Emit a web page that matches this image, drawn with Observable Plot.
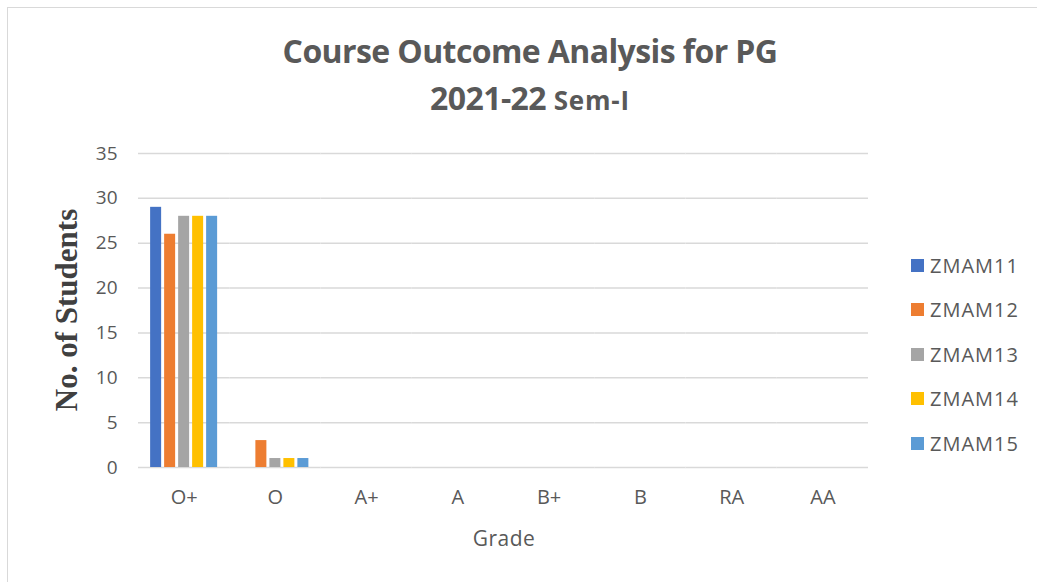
<!DOCTYPE html>
<html>
<head>
<meta charset="utf-8">
<script src="https://cdn.jsdelivr.net/npm/d3@7"></script>
<script src="https://cdn.jsdelivr.net/npm/@observablehq/plot@0.6"></script>
<style>
  body { margin: 0; background: #fff; }
  #wrap { position: relative; width: 1037px; height: 582px; overflow: hidden; background: #fff; font-family: "Open Sans", "Liberation Sans", sans-serif; color: #595959; }
  #frame { position: absolute; left: 7px; top: 7px; width: 1040px; height: 600px; border: 1px solid #d9d9d9; box-sizing: border-box; }
  .title { position: absolute; left: 0; width: 1060px; text-align: center; font-weight: bold; color: #595959; letter-spacing: -0.6px; line-height: 32px; white-space: nowrap; }
  #chart { position: absolute; left: 0; top: 140px; }
  #ylab { position: absolute; left: 67px; top: 310px; transform: translate(-50%, -50%) rotate(-90deg); font-family: "Liberation Serif", "DejaVu Serif", serif; font-weight: bold; font-size: 31px; color: #404040; white-space: nowrap; }
  #xlab { position: absolute; left: 504px; top: 538px; transform: translate(-50%, -50%); font-size: 21px; letter-spacing: 0.5px; white-space: nowrap; }
  .leg { position: absolute; left: 911px; height: 20px; display: flex; align-items: center; font-size: 20px; letter-spacing: 1px; color: #595959; white-space: nowrap; }
  .leg span.sw { width: 13px; height: 13px; margin-right: 6px; display: inline-block; }
</style>
</head>
<body>
<div id="wrap">
  <div id="frame"></div>
  <div class="title" style="top:35px;font-size:32px;">Course Outcome Analysis for PG</div>
  <div class="title" style="top:82px;font-size:32px;">2021-22 <span style="font-size:26px;letter-spacing:0.8px;">Sem-I</span></div>
  <div id="chart"></div>
  <div id="ylab">No. of Students</div>
  <div id="xlab">Grade</div>
  <div id="legend"></div>
</div>
<script>
const grades = ["O+", "O", "A+", "A", "B+", "B", "RA", "AA"];
const seriesNames = ["ZMAM11", "ZMAM12", "ZMAM13", "ZMAM14", "ZMAM15"];
const seriesColors = ["#4472C4", "#ED7D31", "#A5A5A5", "#FFC000", "#5B9BD5"];
const ZMAM11 = [29, 0, 0, 0, 0, 0, 0, 0];
const ZMAM12 = [26, 3, 0, 0, 0, 0, 0, 0];
const ZMAM13 = [28, 1, 0, 0, 0, 0, 0, 0];
const ZMAM14 = [28, 1, 0, 0, 0, 0, 0, 0];
const ZMAM15 = [28, 1, 0, 0, 0, 0, 0, 0];
const yTicks = [0, 5, 10, 15, 20, 25, 30, 35];

const seriesValues = [ZMAM11, ZMAM12, ZMAM13, ZMAM14, ZMAM15];
const data = [];
grades.forEach((g, i) => seriesNames.forEach((s, j) => data.push({grade: g, series: s, value: seriesValues[j][i]})));

const chart = Plot.plot({
  width: 1037,
  height: 387,
  marginLeft: 138,
  marginRight: 169,
  marginTop: 13,
  marginBottom: 60,
  style: {fontFamily: "'Open Sans', 'Liberation Sans', sans-serif", fontSize: "19px", color: "#595959", background: "transparent"},
  fx: {domain: grades, padding: 0, round: false, label: null},
  x: {domain: seriesNames, paddingInner: 0.214, paddingOuter: 0.866, round: false, axis: null},
  y: {domain: [0, 35], label: null},
  color: {domain: seriesNames, range: seriesColors},
  marks: [
    Plot.ruleY(yTicks, {stroke: "#d9d9d9", strokeWidth: 1.5}),
    Plot.barY(data, {fx: "grade", x: "series", y: "value", fill: "series"}),
    Plot.axisY({ticks: yTicks, tickSize: 0, tickPadding: 21, label: null, fontSize: 19, style: "letter-spacing:1px"}),
    Plot.axisFx({anchor: "bottom", tickSize: 0, tickPadding: 22, label: null, fontSize: 20})
  ]
});
document.getElementById("chart").appendChild(chart);

const legend = document.getElementById("legend");
const rowY = [265, 309, 354, 398, 443];
seriesNames.forEach((s, i) => {
  const d = document.createElement("div");
  d.className = "leg";
  d.style.top = (rowY[i] - 10) + "px";
  d.innerHTML = `<span class="sw" style="background:${seriesColors[i]}"></span>${s}`;
  legend.appendChild(d);
});
</script>
</body>
</html>
